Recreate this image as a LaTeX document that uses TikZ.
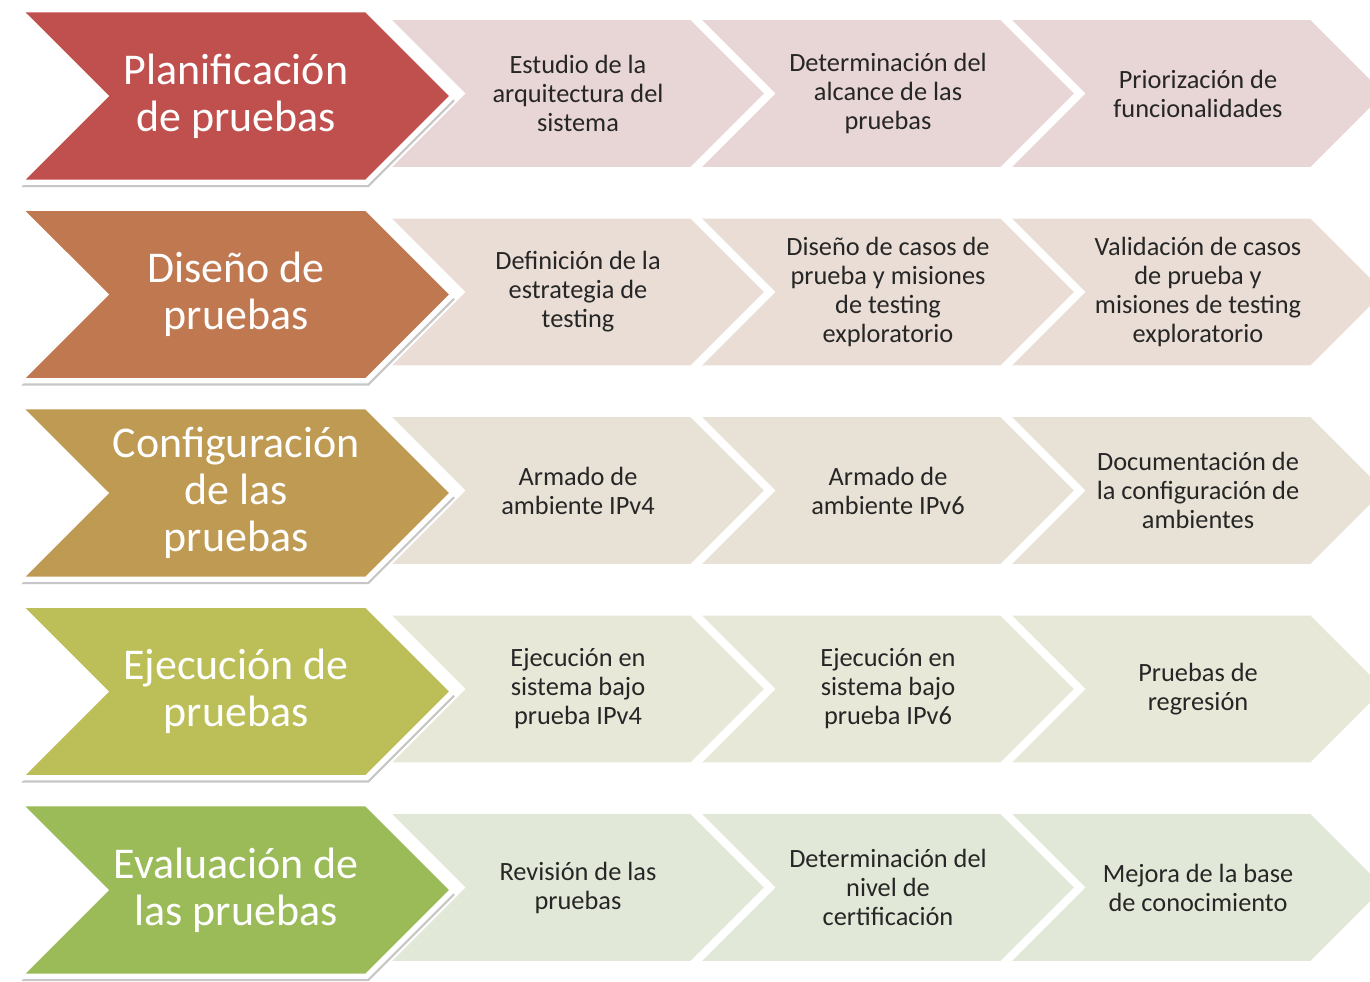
\documentclass[tikz,border=0pt]{standalone}
\usepackage{fontspec}
\setmainfont{Carlito}
\usetikzlibrary{shapes.symbols,shadows}

\definecolor{planc}{HTML}{C0504D}
\definecolor{disec}{HTML}{C07850}
\definecolor{confc}{HTML}{BE9A52}
\definecolor{ejecc}{HTML}{BCBE58}
\definecolor{evalc}{HTML}{9BBB59}
\definecolor{plant}{HTML}{E8D5D5}
\definecolor{diset}{HTML}{E9DDD5}
\definecolor{conft}{HTML}{E8E2D6}
\definecolor{eject}{HTML}{E8E8D9}
\definecolor{evalt}{HTML}{E2E8D8}

\tikzstyle{chev}=[signal,signal to=east,signal from=west,signal pointer angle=90,inner sep=0pt,align=center]
\tikzstyle{phase}=[chev,minimum width=8.68cm,minimum height=3.45cm,draw=white,line width=3pt,
  text=white,font=\fontsize{25}{26.7}\selectfont,
  drop shadow={shadow xshift=0.4mm,shadow yshift=-1mm,opacity=0.45}]
\tikzstyle{task}=[chev,minimum width=7.44cm,minimum height=2.94cm,text=black!85,
  font=\fontsize{15}{16.5}\selectfont]

\begin{document}
\begin{tikzpicture}[x=0.02cm,y=-0.02cm]
\useasboundingbox (0,0) rectangle (1370,981);
\clip (0,0) rectangle (1370,981);

% planificacion
\node[task,fill=plant] (plan1) at (578,93.5) {Estudio de la\\arquitectura del\\sistema};
\node[task,fill=plant] (plan2) at (888,93.5) {Determinación del\\alcance de las\\pruebas};
\node[task,fill=plant] (plan3) at (1198,93.5) {Priorización de\\funcionalidades};
\node[phase,fill=planc] (plan) at (236,96) {Planificación\\de pruebas};

% diseno
\node[task,fill=diset] (dise1) at (578,292) {Definición de la\\estrategia de\\testing};
\node[task,fill=diset] (dise2) at (888,292) {Diseño de casos de\\prueba y misiones\\de testing\\exploratorio};
\node[task,fill=diset] (dise3) at (1198,292) {Validación de casos\\de prueba y\\misiones de testing\\exploratorio};
\node[phase,fill=disec] (dise) at (236,294.5) {Diseño de\\pruebas};

% configuracion
\node[task,fill=conft] (conf1) at (578,490.5) {Armado de\\ambiente IPv4};
\node[task,fill=conft] (conf2) at (888,490.5) {Armado de\\ambiente IPv6};
\node[task,fill=conft] (conf3) at (1198,490.5) {Documentación de\\la configuración de\\ambientes};
\node[phase,fill=confc] (conf) at (236,493) {Configuración\\de las\\pruebas};

% ejecucion
\node[task,fill=eject] (ejec1) at (578,689) {Ejecución en\\sistema bajo\\prueba IPv4};
\node[task,fill=eject] (ejec2) at (888,689) {Ejecución en\\sistema bajo\\prueba IPv6};
\node[task,fill=eject] (ejec3) at (1198,689) {Pruebas de\\regresión};
\node[phase,fill=ejecc] (ejec) at (236,691.5) {Ejecución de\\pruebas};

% evaluacion
\node[task,fill=evalt] (eval1) at (578,887.5) {Revisión de las\\pruebas};
\node[task,fill=evalt] (eval2) at (888,887.5) {Determinación del\\nivel de\\certificación};
\node[task,fill=evalt] (eval3) at (1198,887.5) {Mejora de la base\\de conocimiento};
\node[phase,fill=evalc] (eval) at (236,890) {Evaluación de\\las pruebas};
\end{tikzpicture}
\end{document}
